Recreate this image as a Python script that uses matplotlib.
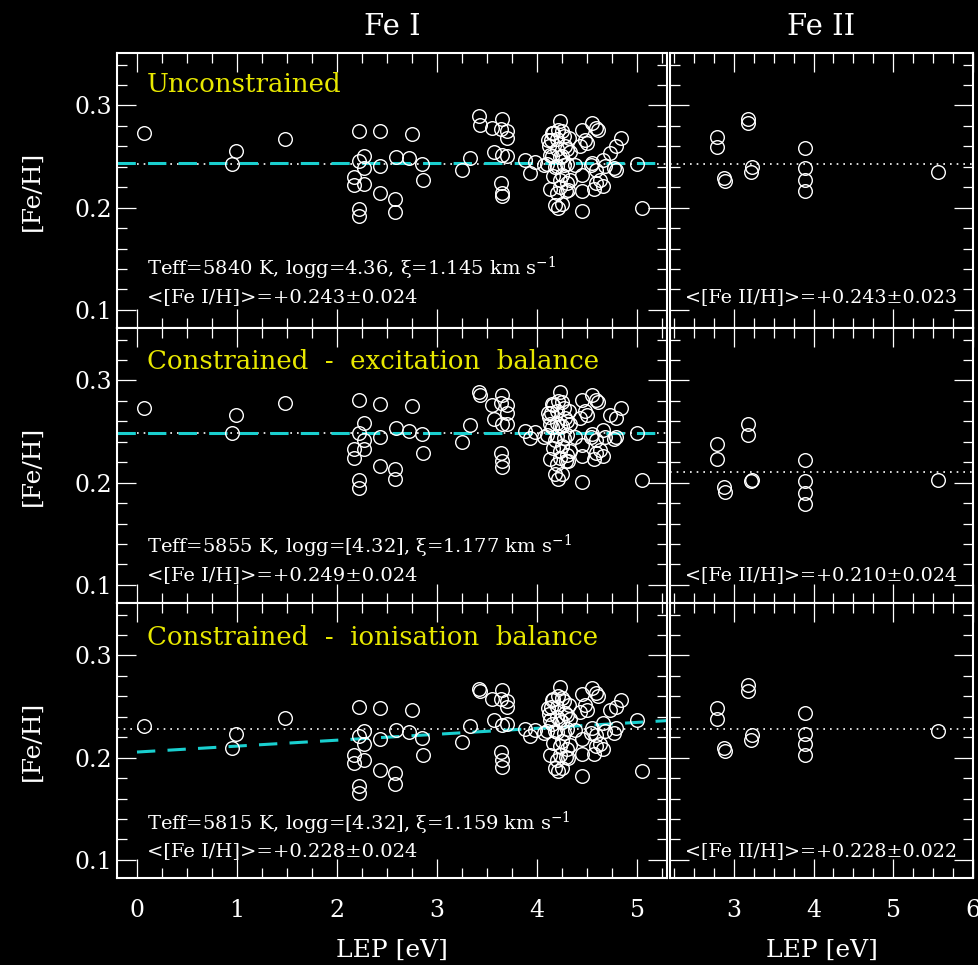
import matplotlib
matplotlib.use("Agg")
import matplotlib.pyplot as plt
import numpy as np
from matplotlib.ticker import MultipleLocator

plt.rcParams['font.family'] = ['DejaVu Serif']
plt.rcParams['mathtext.fontset'] = 'dejavuserif'

# Fe I lines: excitation potential and abundance for the three solutions
lep_fe1 = [0.07, 0.99, 0.95, 1.48, 2.22, 2.43, 2.75, 2.27, 2.22, 2.27,
           2.17, 2.17, 2.27, 2.22, 2.22, 2.43, 2.43, 2.59, 2.58, 2.58,
           2.725, 2.85, 2.86, 3.25, 3.33, 3.42, 3.43, 3.55, 3.65, 3.64,
           3.70, 3.70, 3.57, 3.65, 3.70, 3.64, 3.65, 3.65, 3.875, 3.93,
           3.98, 4.07, 4.11, 4.16, 4.23, 4.21, 4.27, 4.32, 4.20, 4.13,
           4.23, 4.30, 4.18, 4.27, 4.375, 4.16, 4.23, 4.30, 4.13, 4.20,
           4.29, 4.18, 4.21, 4.45, 4.48, 4.43, 4.55, 4.59, 4.61, 4.45,
           4.45, 4.45, 4.54, 4.59, 4.66, 4.625, 4.66, 4.59, 4.73, 4.79,
           4.84, 4.79, 5.00, 5.05, 4.14,
           4.15, 4.25, 4.20, 4.12, 4.28, 4.15, 4.25, 4.33, 4.10, 4.20,
           4.30, 4.25, 4.33, 4.23, 4.31, 4.25, 4.50, 4.55, 4.68, 4.77,
           4.57]
feh_fe1_unc = [0.273, 0.255, 0.243, 0.267, 0.275, 0.275, 0.272, 0.251, 0.246, 0.239,
               0.230, 0.222, 0.223, 0.199, 0.192, 0.241, 0.214, 0.250, 0.208, 0.196,
               0.249, 0.243, 0.227, 0.237, 0.249, 0.290, 0.281, 0.278, 0.287, 0.277,
               0.275, 0.268, 0.254, 0.252, 0.251, 0.224, 0.214, 0.211, 0.247, 0.234,
               0.245, 0.242, 0.266, 0.273, 0.285, 0.276, 0.270, 0.268, 0.257, 0.252,
               0.250, 0.257, 0.240, 0.242, 0.242, 0.231, 0.227, 0.224, 0.218, 0.214,
               0.216, 0.203, 0.200, 0.276, 0.266, 0.260, 0.283, 0.278, 0.276, 0.232,
               0.216, 0.197, 0.242, 0.237, 0.247, 0.227, 0.221, 0.224, 0.253, 0.260,
               0.268, 0.237, 0.243, 0.200, 0.266,
               0.273, 0.275, 0.267, 0.260, 0.260, 0.251, 0.251, 0.254, 0.243, 0.241,
               0.243, 0.232, 0.227, 0.220, 0.217, 0.204, 0.263, 0.244, 0.241, 0.239,
               0.218]
feh_fe1_exc = [0.273, 0.266, 0.249, 0.278, 0.281, 0.277, 0.275, 0.258, 0.249, 0.242,
               0.233, 0.224, 0.233, 0.203, 0.195, 0.245, 0.216, 0.253, 0.213, 0.204,
               0.251, 0.248, 0.229, 0.240, 0.256, 0.289, 0.286, 0.276, 0.286, 0.278,
               0.276, 0.268, 0.262, 0.257, 0.257, 0.229, 0.221, 0.215, 0.251, 0.244,
               0.250, 0.245, 0.268, 0.276, 0.289, 0.280, 0.273, 0.270, 0.258, 0.257,
               0.255, 0.260, 0.242, 0.244, 0.245, 0.234, 0.231, 0.227, 0.223, 0.218,
               0.221, 0.208, 0.204, 0.281, 0.270, 0.263, 0.286, 0.281, 0.279, 0.237,
               0.226, 0.201, 0.245, 0.242, 0.252, 0.232, 0.226, 0.229, 0.266, 0.263,
               0.273, 0.245, 0.249, 0.203, 0.268,
               0.277, 0.279, 0.270, 0.264, 0.263, 0.254, 0.255, 0.257, 0.247, 0.246,
               0.247, 0.236, 0.231, 0.224, 0.221, 0.208, 0.266, 0.248, 0.245, 0.243,
               0.223]
feh_fe1_ion = [0.231, 0.223, 0.209, 0.239, 0.250, 0.249, 0.247, 0.226, 0.221, 0.213,
               0.203, 0.195, 0.198, 0.172, 0.165, 0.218, 0.188, 0.227, 0.185, 0.174,
               0.225, 0.219, 0.203, 0.215, 0.231, 0.267, 0.265, 0.257, 0.266, 0.257,
               0.255, 0.250, 0.237, 0.232, 0.233, 0.206, 0.198, 0.191, 0.228, 0.221,
               0.227, 0.224, 0.249, 0.257, 0.269, 0.260, 0.255, 0.252, 0.240, 0.237,
               0.237, 0.242, 0.226, 0.224, 0.227, 0.214, 0.211, 0.208, 0.203, 0.198,
               0.201, 0.190, 0.187, 0.262, 0.252, 0.245, 0.268, 0.263, 0.260, 0.218,
               0.204, 0.182, 0.224, 0.222, 0.234, 0.213, 0.208, 0.211, 0.247, 0.250,
               0.256, 0.229, 0.237, 0.187, 0.250,
               0.256, 0.258, 0.250, 0.243, 0.244, 0.233, 0.235, 0.238, 0.226, 0.225,
               0.228, 0.216, 0.212, 0.203, 0.200, 0.190, 0.247, 0.229, 0.226, 0.224,
               0.204]

# Fe II lines
lep_fe2 = [2.79, 2.79, 2.875, 2.89, 3.18, 3.18, 3.225, 3.22, 3.89, 3.89, 3.89, 3.89, 5.555]
feh_fe2_unc = [0.269, 0.259, 0.229, 0.226, 0.287, 0.283, 0.240, 0.235, 0.258, 0.239, 0.227, 0.216, 0.235]
feh_fe2_exc = [0.238, 0.223, 0.196, 0.191, 0.257, 0.247, 0.203, 0.202, 0.222, 0.202, 0.190, 0.179, 0.203]
feh_fe2_ion = [0.249, 0.238, 0.209, 0.207, 0.271, 0.265, 0.222, 0.217, 0.244, 0.223, 0.213, 0.203, 0.226]

titles = ['Unconstrained', 'Constrained  -  excitation  balance',
          'Constrained  -  ionisation  balance']
teff = [5840, 5855, 5815]
logg = ['4.36', '[4.32]', '[4.32]']
vturb = ['1.145', '1.177', '1.159']
fe1_mean = [0.243, 0.249, 0.228]
fe1_err = [0.024, 0.024, 0.024]
fe2_mean = [0.243, 0.210, 0.228]
fe2_err = [0.023, 0.024, 0.022]
# linear fit of Fe I abundance vs LEP
fit_zero = [0.2435, 0.249, 0.2055]
fit_slope = [0.0, 0.0, 0.0058]

fe1_rows = [feh_fe1_unc, feh_fe1_exc, feh_fe1_ion]
fe2_rows = [feh_fe2_unc, feh_fe2_exc, feh_fe2_ion]

fig = plt.figure(figsize=(9.79, 9.65), dpi=100, facecolor='black')

W, H = 979.0, 965.0
row_top = [53.3, 328.3, 603.3]
row_h = 275.0
title_y = [0.885, 0.880, 0.877]
teff_y = [0.219, 0.208, 0.201]
mean_y = [0.114, 0.103, 0.100]

cyan = '#19cfcf'


def style(ax, xmaj):
    ax.set_facecolor('black')
    for s in ax.spines.values():
        s.set_color('white')
        s.set_linewidth(1.5)
    ax.xaxis.set_major_locator(MultipleLocator(xmaj))
    ax.xaxis.set_minor_locator(MultipleLocator(0.25))
    ax.yaxis.set_major_locator(MultipleLocator(0.1))
    ax.yaxis.set_minor_locator(MultipleLocator(0.02))
    ax.tick_params(which='both', direction='in', top=True, right=True,
                   colors='white', labelsize=17, width=0.9)
    ax.tick_params(which='major', length=14)
    ax.tick_params(which='minor', length=7.5)
    ax.set_ylim(0.082, 0.351)


for i in range(3):
    bottom = (H - row_top[i] - row_h) / H
    h = row_h / H
    ax1 = fig.add_axes([117 / W, bottom, 550 / W, h])
    ax2 = fig.add_axes([670 / W, bottom, 303 / W, h])
    style(ax1, 1)
    style(ax2, 1)
    ax1.set_xlim(-0.2, 5.3)
    ax2.set_xlim(2.2, 6.0)

    # Fe I panel
    ax1.axhline(fe1_mean[i], color='white', ls=(0, (1, 3)), lw=1.2)
    xf = np.array([-0.2 if fit_slope[i] == 0 else 0.0, 5.3])
    ax1.plot(xf, fit_zero[i] + fit_slope[i] * xf, color=cyan, lw=2.2,
             ls=(0, (6, 4)))
    ax1.plot(lep_fe1, fe1_rows[i], 'o', mfc='none', mec='white', ms=9.8, mew=1.0)
    ax1.text(0.0545, title_y[i], titles[i], transform=ax1.transAxes,
             color='#e8e800', fontsize=18.7, va='center', ha='left')
    ax1.text(0.0545, teff_y[i],
             'Teff=%d K, logg=%s, \u03be=%s km s$^{-1}$' % (teff[i], logg[i], vturb[i]),
             transform=ax1.transAxes, color='white', fontsize=14, va='center')
    ax1.text(0.0545, mean_y[i],
             '<[Fe I/H]>=+%.3f\u00b1%.3f' % (fe1_mean[i], fe1_err[i]),
             transform=ax1.transAxes, color='white', fontsize=14, va='center')
    ax1.set_ylabel('[Fe/H]', color='white', fontsize=18, labelpad=22)

    # Fe II panel
    ax2.axhline(fe2_mean[i], color='white', ls=(0, (1, 3)), lw=1.2)
    ax2.plot(lep_fe2, fe2_rows[i], 'o', mfc='none', mec='white', ms=9.8, mew=1.0)
    ax2.text(0.05, mean_y[i],
             '<[Fe II/H]>=+%.3f\u00b1%.3f' % (fe2_mean[i], fe2_err[i]),
             transform=ax2.transAxes, color='white', fontsize=13.8, va='center')
    ax2.set_yticklabels([])

    if i == 0:
        ax1.set_title('Fe I', color='white', fontsize=21, pad=13)
        ax2.set_title('Fe II', color='white', fontsize=21, pad=13)
    if i < 2:
        ax1.set_xticklabels([])
        ax2.set_xticklabels([])
    else:
        ax1.set_xlabel('LEP [eV]', color='white', fontsize=18, labelpad=12)
        ax2.set_xlabel('LEP [eV]', color='white', fontsize=18, labelpad=12)
        ax1.tick_params(axis='x', pad=15)
        ax2.tick_params(axis='x', pad=15)

fig.savefig('out.png', dpi=100, facecolor='black')
